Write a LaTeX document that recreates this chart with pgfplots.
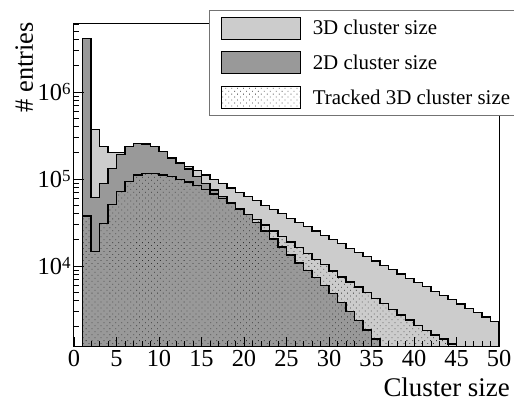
\documentclass[border=0pt]{standalone}
\usepackage{fontspec}
\setmainfont{Liberation Serif}
\usepackage{pgfplots}
\usepackage{pgfplotstable}
\pgfplotsset{compat=1.18}
\usetikzlibrary{patterns.meta}
\definecolor{lightg}{RGB}{204,204,204}
\definecolor{darkg}{RGB}{153,153,153}

% 3D cluster size (bin left edge, entries)
\pgfplotstableread{
x y
1 100
1 2.5e6
2 3.73e5
3 2.35e5
4 2.03e5
5 2.03e5
6 2.10e5
7 2.15e5
8 2.10e5
9 2.00e5
10 1.85e5
11 1.68e5
12 1.55e5
13 1.39e5
14 1.24e5
15 1.11e5
16 9.89e4
17 8.83e4
18 7.88e4
19 7.03e4
20 6.28e4
21 5.60e4
22 5.00e4
23 4.46e4
24 3.98e4
25 3.55e4
26 3.17e4
27 2.83e4
28 2.53e4
29 2.25e4
30 2.01e4
31 1.80e4
32 1.60e4
33 1.43e4
34 1.28e4
35 1.14e4
36 1.02e4
37 9.06e3
38 8.09e3
39 7.22e3
40 6.45e3
41 5.75e3
42 5.13e3
43 4.58e3
44 4.09e3
45 3.65e3
46 3.26e3
47 2.91e3
48 2.59e3
49 2.31e3
50 2.31e3
50 100
}\threeD

% 2D cluster size
\pgfplotstableread{
x y
1 100
1 4.14e6
2 6.16e4
3 8.93e4
4 1.327e5
5 1.90e5
6 2.35e5
7 2.57e5
8 2.52e5
9 2.35e5
10 2.06e5
11 1.74e5
12 1.51e5
13 1.30e5
14 1.07e5
15 8.93e4
16 7.47e4
17 6.26e4
18 5.37e4
19 4.55e4
20 3.93e4
21 3.16e4
22 2.52e4
23 2.04e4
24 1.65e4
25 1.34e4
26 1.08e4
27 8.88e3
28 7.38e3
29 5.98e3
30 4.83e3
31 3.80e3
32 3.00e3
33 2.36e3
34 1.84e3
35 1.45e3
36 1.14e3
37 890
38 690
39 540
40 420
41 325
42 250
43 195
44 150
45 115
46 90
47 70
48 54
49 42
50 42
50 10
}\twoD

% Tracked 3D cluster size
\pgfplotstableread{
x y
1 100
1 3.76e4
2 1.46e4
3 3.10e4
4 5.12e4
5 7.14e4
6 9.31e4
7 1.11e5
8 1.16e5
9 1.16e5
10 1.11e5
11 1.06e5
12 9.93e4
13 9.24e4
14 8.42e4
15 7.57e4
16 6.72e4
17 5.97e4
18 5.23e4
19 4.50e4
20 3.90e4
21 3.42e4
22 2.96e4
23 2.52e4
24 2.18e4
25 1.89e4
26 1.63e4
27 1.39e4
28 1.19e4
29 1.03e4
30 8.76e3
31 7.48e3
32 6.55e3
33 5.74e3
34 4.96e3
35 4.23e3
36 3.71e3
37 3.18e3
38 2.73e3
39 2.39e3
40 2.07e3
41 1.82e3
42 1.61e3
43 1.45e3
44 1.27e3
45 1.11e3
46 960
47 840
48 730
49 640
50 640
50 100
}\tracked

\begin{document}
\begin{tikzpicture}
\begin{axis}[
  at={(0,0)}, anchor=south west,
  scale only axis, width=425bp, height=322.7bp,
  xmin=0, xmax=50, ymode=log, ymin=1180, ymax=6.05e6,
  axis on top,
  axis line style={line width=1bp},
  xtick={0,5,...,50}, minor x tick num=4,
  ytick={1e4,1e5,1e6},
  yticklabels={10\raisebox{6.3bp}{\fontsize{17}{17}\selectfont 4},
               10\raisebox{6.3bp}{\fontsize{17}{17}\selectfont 5},
               10\raisebox{6.3bp}{\fontsize{17}{17}\selectfont 6}},
  minor ytick={2000,3000,4000,5000,6000,7000,8000,9000,
               20000,30000,40000,50000,60000,70000,80000,90000,
               200000,300000,400000,500000,600000,700000,800000,900000,
               2000000,3000000,4000000,5000000,6000000},
  tick align=inside, xtick pos=bottom, ytick pos=left,
  major tick length=10bp, minor tick length=5.5bp,
  tick style={black, line width=0.8bp},
  /pgf/number format/assume math mode=true,
  xticklabel style={font=\fontsize{24.5}{24.5}\selectfont},
  yticklabel style={font=\fontsize{24.5}{24.5}\selectfont},
  xlabel={Cluster size}, ylabel={\# entries},
  xlabel style={at={(axis description cs:1.0259,-0.1530)}, anchor=base east,
                inner sep=0pt, font=\fontsize{27}{27}\selectfont},
  ylabel style={at={(axis description cs:-0.0965,1.0062)}, anchor=base east,
                inner sep=0pt, font=\fontsize{26.5}{26.5}\selectfont},
  legend style={at={(axis description cs:0.3176,1.0434)}, anchor=north west,
                draw=black!55, line width=1.2bp, fill=white,
                inner xsep=11bp, inner ysep=6bp,
                row sep=11.5bp, column sep=12bp,
                cells={anchor=west},
                nodes={inner sep=0pt, font=\fontsize{21}{21}\selectfont}},
  legend image code/.code={\draw[#1] (0bp,-11bp) rectangle (79bp,11bp);},
]
\addplot[const plot, fill=lightg, draw=black, line width=1.2bp] table[x=x,y=y] {\threeD};
\addlegendentry{3D cluster size}
\addplot[const plot, fill=darkg, draw=black, line width=1.2bp] table[x=x,y=y] {\twoD};
\addlegendentry{2D cluster size}
\addplot[const plot, draw=black, line width=1.2bp,
         pattern={Dots[radius=0.55bp, distance=4.2bp, angle=45]}, pattern color=black!80] table[x=x,y=y] {\tracked};
\addlegendentry{Tracked 3D cluster size}
\end{axis}
\pgfresetboundingbox
\path[use as bounding box] (-74bp,-56.3bp) rectangle (440bp,346.7bp);
\end{tikzpicture}
\end{document}
